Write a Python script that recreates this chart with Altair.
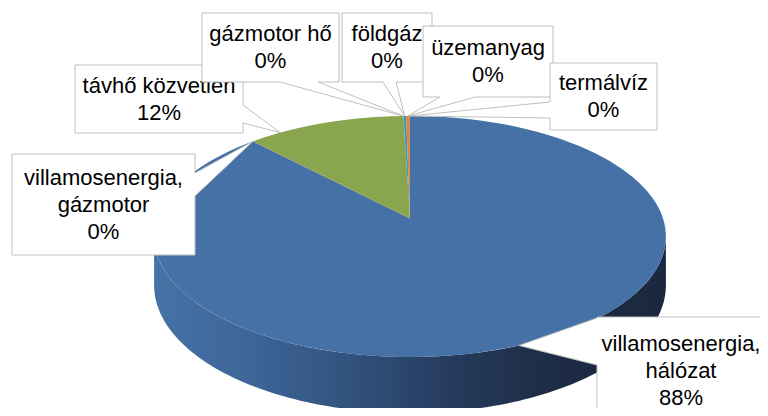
import altair as alt
import pandas as pd
import numpy as np

# ---- data ----
categories = ["villamosenergia, hálózat", "villamosenergia, gázmotor", "távhő közvetlen",
              "gázmotor hő", "földgáz", "üzemanyag", "termálvíz"]
shares = [87.9, 0.01, 11.58, 0.02, 0.2, 0.27, 0.01]
colors = ["#4571A6", "#AA4643", "#89A54E", "#71588F", "#4198AF", "#DB843D", "#93A9CF"]

# ---- callout layout (screen px) ----
box_x0 = [597, 12, 75, 202, 342, 423, 550]
box_y0 = [317, 154, 65, 13, 13, 26, 63]
box_x1 = [765, 195, 243, 339, 432, 553, 657]
box_y1 = [424, 255, 133, 82, 82, 97, 130]
ptr_side = ["left", "right", "right", "bottom", "bottom", "bottom", "left"]
ptr_b0 = [318, 173, 105, 280, 383, 440, 102]
ptr_b1 = [365, 196, 123, 318, 396, 475, 118]
tip_pos = [0.5, 0.5, 0.2, 0.5, 0.5, 0.5, 0.5]   # where along its slice each pointer lands
LINE_H = 27

# ---- geometry (3-D pie in perspective) ----
W, H = 752, 400
CX, CY, A, B, P, D = 410, 218.4, 253, 117.8, 0.15, 47.6
N = 120
T0 = float(np.arccos(-P))
T1 = float(2 * np.pi - T0)

df = pd.DataFrame({"idx": list(range(len(categories))), "cat": categories, "value": shares})

xs = alt.X("px:Q", scale=alt.Scale(domain=[8, 8 + W], nice=False, zero=False), axis=None)
ys = alt.Y("py:Q", scale=alt.Scale(domain=[8 + H, 8], nice=False, zero=False), axis=None)


def angles(ch):
    return (ch.transform_window(cum="sum(value)", sort=[alt.SortField("idx")], frame=[None, 0])
              .transform_joinaggregate(total="sum(value)")
              .transform_calculate(a0="2*PI*(datum.cum - datum.value)/datum.total",
                                   a1="2*PI*datum.cum/datum.total"))


side_grad = alt.Gradient(
    gradient="linear", x1=0, x2=1, y1=0, y2=0,
    stops=[alt.GradientStop(offset=0, color="#4672A6"),
           alt.GradientStop(offset=0.2, color="#3D6497"),
           alt.GradientStop(offset=0.4, color="#30507A"),
           alt.GradientStop(offset=0.6, color="#24395A"),
           alt.GradientStop(offset=0.8, color="#1C2B43"),
           alt.GradientStop(offset=1, color="#1A2840")])

side = (angles(alt.Chart(df))
        .transform_calculate(s0=f"max(datum.a0, {T0})", s1=f"min(datum.a1, {T1})")
        .transform_filter("datum.s1 > datum.s0")
        .transform_calculate(k=f"sequence(0, {2 * N + 2})")
        .transform_flatten(["k"])
        .transform_calculate(t=f"datum.k <= {N} ? datum.s0 + (datum.s1 - datum.s0)*datum.k/{N} : datum.s1 - (datum.s1 - datum.s0)*(datum.k - {N + 1})/{N}")
        .transform_calculate(f=f"1/(1 + {P}*cos(datum.t))")
        .transform_calculate(px=f"{CX} + {A}*sin(datum.t)*datum.f",
                             py=f"{CY} - {B}*cos(datum.t)*datum.f + (datum.k > {N} ? {D}*datum.f : 0)")
        .mark_line(filled=True, fill=side_grad, strokeWidth=0)
        .encode(x=xs, y=ys, order="k:Q", detail="cat:N"))

top = (angles(alt.Chart(df))
       .transform_calculate(k=f"sequence(-1, {N + 1})")
       .transform_flatten(["k"])
       .transform_calculate(t=f"datum.a0 + (datum.a1 - datum.a0)*max(datum.k, 0)/{N}")
       .transform_calculate(f=f"1/(1 + {P}*cos(datum.t))")
       .transform_calculate(px=f"datum.k < 0 ? {CX} : {CX} + {A}*sin(datum.t)*datum.f",
                            py=f"datum.k < 0 ? {CY} : {CY} - {B}*cos(datum.t)*datum.f")
       .mark_line(filled=True, strokeWidth=0)
       .encode(x=xs, y=ys, order="k:Q", detail="cat:N",
               color=alt.Color("cat:N", scale=alt.Scale(domain=categories, range=colors), legend=None)))

# ---- callouts: tip derived from each slice's angle span ----
vals = np.array(shares, dtype=float)
cum = np.cumsum(vals)
start = cum - vals
ang = 2 * np.pi * (start + vals * np.array(tip_pos)) / vals.sum()
fac = 1 / (1 + P * np.cos(ang))
tip_x = CX + A * np.sin(ang) * fac
tip_y = CY - B * np.cos(ang) * fac

rows = []
for i in range(len(categories)):
    x0, y0, x1, y1 = box_x0[i], box_y0[i], box_x1[i], box_y1[i]
    b0, b1, tx, ty = ptr_b0[i], ptr_b1[i], float(tip_x[i]), float(tip_y[i])
    s = ptr_side[i]
    if s == "bottom":
        pts = [(x0, y0), (x1, y0), (x1, y1), (b1, y1), (tx, ty), (b0, y1), (x0, y1)]
    elif s == "right":
        pts = [(x0, y0), (x1, y0), (x1, b0), (tx, ty), (x1, b1), (x1, y1), (x0, y1)]
    else:
        pts = [(x0, y0), (x1, y0), (x1, y1), (x0, y1), (x0, b1), (tx, ty), (x0, b0)]
    pts.append(pts[0])
    for j, (px, py) in enumerate(pts):
        rows.append({"idx": i, "v": j, "px": px, "py": py})
callout_df = pd.DataFrame(rows)

text_df = df.copy()
text_df["cx"] = [(a + b) / 2 for a, b in zip(box_x0, box_x1)]
text_df["cy"] = [(a + b) / 2 for a, b in zip(box_y0, box_y1)]

layers = [side, top]
for i in range(len(categories)):
    box = (alt.Chart(callout_df).transform_filter(f"datum.idx == {i}")
           .mark_line(filled=True, fill="white", stroke="#BFBFBF", strokeWidth=1)
           .encode(x=xs, y=ys, order="v:Q"))
    txt = (alt.Chart(text_df)
           .transform_joinaggregate(total="sum(value)")
           .transform_filter(f"datum.idx == {i}")
           .transform_calculate(label="replace(datum.cat, ', ', ',\\n') + '\\n' + format(datum.value/datum.total, '.0%')")
           .transform_calculate(nl="length(split(datum.label, '\\n'))")
           .transform_calculate(px="datum.cx", py=f"datum.cy - (datum.nl - 1)*{LINE_H}/2")
           .mark_text(lineBreak="\n", lineHeight=LINE_H, fontSize=22, font="Liberation Sans",
                      align="center", baseline="middle", color="#000000")
           .encode(x=xs, y=ys, text="label:N"))
    layers += [box, txt]

chart = (alt.layer(*layers)
         .properties(width=W, height=H, padding=0, background="white",
                     autosize=alt.AutoSizeParams(type="none"))
         .configure_view(stroke="transparent"))

chart.save("out.html", embed_options={"renderer": "svg", "actions": False})
